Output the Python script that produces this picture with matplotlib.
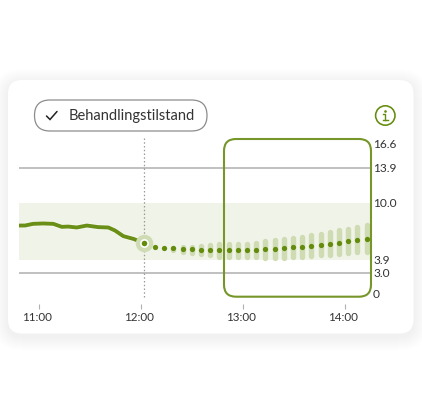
'''
    Glucose trace with a forecast for the next two hours
'''
import numpy as np
import matplotlib
matplotlib.use('Agg')
import matplotlib.pyplot as plt
from matplotlib.patches import FancyBboxPatch, Circle
from matplotlib.transforms import ScaledTranslation

W, H = 422, 413

# y axis is squeezed below the target range, so it is piecewise
SCALE_VALUES = [0, 3.0, 3.9, 10.0, 13.9, 16.6]
SCALE_HEIGHTS = [0, 21.3, 34, 91.3, 126, 150]
Y_TICKS = [0, 3.0, 3.9, 10.0, 13.9, 16.6]
Y_LABELS = ['0', '3.0', '3.9', '10.0', '13.9', '16.6']
GRID_LEVELS = [3.0, 13.9]
RANGE_LOW, RANGE_HIGH = 3.9, 10.0

# everything on x is minutes after 11:00
X_TICKS = [0, 60, 120, 180]
X_LABELS = ['11:00', '12:00', '13:00', '14:00']

HIST_T = [-11.8, -8.2, -3.5, 2.4, 8.4, 13.4, 17.2, 22.2, 28.1, 34.9, 40.8,
          44.7, 49.6, 55.5, 60.6, 62.0]
HIST_G = [7.57, 7.57, 7.75, 7.79, 7.75, 7.43, 7.46, 7.36, 7.57, 7.40, 7.36,
          7.04, 6.44, 6.15, 5.79, 5.70]
NOW_T, NOW_G = 62.0, 5.70

FC_T = [68.2, 73.5, 79.0, 84.5, 89.8, 95.3, 100.6, 106.1, 111.6, 116.9, 122.4,
        127.6, 133.1, 138.6, 143.9, 149.4, 154.9, 160.2, 165.7, 171.2, 176.5,
        181.9, 187.2, 192.8]
FC_G = [5.32, 5.22, 5.15, 5.08, 5.05, 4.97, 4.97, 4.97, 4.97, 4.97, 4.97,
        4.97, 5.05, 5.11, 5.15, 5.26, 5.29, 5.40, 5.51, 5.61, 5.75, 5.90,
        6.04, 6.18]
FC_HIGH = [5.32, 5.35, 5.51, 5.61, 5.61, 5.69, 5.75, 5.86, 5.93, 5.93, 5.93,
           6.04, 6.22, 6.29, 6.47, 6.58, 6.65, 6.82, 7.00, 7.19, 7.40, 7.54,
           7.72, 7.93]
FC_LOW = [5.32, 5.10, 4.72, 4.51, 4.33, 4.25, 4.15, 3.98, 3.90, 3.90, 3.90,
          3.90, 3.88, 3.88, 3.88, 3.98, 3.98, 4.08, 4.15, 4.15, 4.25, 4.36,
          4.44, 4.51]

GREEN = '#648c0c'
BOX_GREEN = '#76962a'
BAND_GREEN = '#cfdbb2'
RANGE_FILL = '#f0f3e7'
TEXT = '#333333'
GREY = '#b5b5b5'
BAR_WIDTH_PX = 5.4

plt.rcParams['font.family'] = ['Lato', 'DejaVu Sans']


def forward(v):
    return np.interp(v, SCALE_VALUES, SCALE_HEIGHTS)


def inverse(h):
    return np.interp(h, SCALE_HEIGHTS, SCALE_VALUES)


def pixel_axes(fig, zorder):
    ''' axes covering the whole figure, measured in pixels from the top left'''
    ax = fig.add_axes([0, 0, 1, 1], zorder=zorder)
    ax.set_xlim(0, W)
    ax.set_ylim(H, 0)
    ax.axis('off')
    ax.patch.set_alpha(0)
    return ax


def rounded(x0, y0, x1, y1, radius, **kw):
    return FancyBboxPatch((x0, y0), x1 - x0, y1 - y0,
                          boxstyle=f'round,pad=0,rounding_size={radius}', **kw)


def draw_card(ax):
    ''' white card with a soft shadow, plus the pill and the info icon'''
    for grow in range(14, 0, -1):
        ax.add_patch(rounded(8 - grow, 80 - grow + 3, 413.5 + grow, 333.5 + grow + 3,
                             14 + grow, fc='black', ec='none', alpha=0.003))
    ax.add_patch(rounded(8, 80, 413.5, 333.5, 14, fc='white', ec='none'))

    ax.add_patch(rounded(34.5, 100, 207, 131, 15.5, fc='white', ec='#8c8c8c', lw=0.9))
    ax.plot([46.5, 50, 57], [116, 119.5, 111.5], color='#222222', lw=1.1,
            solid_capstyle='round', solid_joinstyle='miter')
    ax.text(69, 116, 'Behandlingstilstand', fontsize=10.5, color=TEXT,
            ha='left', va='center')

    ax.add_patch(Circle((385.3, 115.5), 9.7, fc='none', ec=GREEN, lw=1.15))
    ax.plot([385.3], [110.6], 'o', color=GREEN, ms=1.9, mew=0)
    ax.plot([383, 385.3, 385.3], [113.5, 113.5, 120.3], color=GREEN, lw=1.0)
    ax.plot([382.5, 388.2], [120.3, 120.3], color=GREEN, lw=1.0)


def draw_chart(ax):
    ax.set_yscale('function', functions=(forward, inverse))
    ax.set_xlim((19 - 39) / 1.7, (369.5 - 39) / 1.7)
    ax.set_ylim(0, 16.6)
    ax.patch.set_alpha(0)
    for spine in ax.spines.values():
        spine.set_visible(False)

    ax.axhspan(RANGE_LOW, RANGE_HIGH, color=RANGE_FILL, lw=0, zorder=1)
    for level in GRID_LEVELS:
        ax.axhline(level, color=GREY, lw=1.2, zorder=2)

    # dotted marker for the current time runs past the plot area
    ax.plot([NOW_T, NOW_T], [1.04, -0.027], transform=ax.get_xaxis_transform(),
            color='#9a9a9a', lw=0.9, ls=(0, (1.2, 1.8)), clip_on=False, zorder=3)

    # forecast spread; the round caps add half a bar width at each end
    cap = BAR_WIDTH_PX / 2
    mid = forward(np.array(FC_G))
    bar_top = inverse(np.maximum(forward(np.array(FC_HIGH)) - cap, mid))
    bar_bottom = inverse(np.minimum(forward(np.array(FC_LOW)) + cap, mid))
    ax.vlines(FC_T, bar_bottom, bar_top, color=BAND_GREEN, lw=BAR_WIDTH_PX * 0.72,
              zorder=4, capstyle='round')
    ax.plot(FC_T, FC_G, 'o', color=GREEN, ms=3.8, mew=0, zorder=6)

    ax.plot(HIST_T, HIST_G, color='white', lw=3.8, alpha=0.7, zorder=4.5,
            solid_capstyle='round')
    ax.plot(HIST_T, HIST_G, color='#6a8f17', lw=2.8, zorder=5,
            solid_capstyle='round', solid_joinstyle='round')

    ax.plot([NOW_T], [NOW_G], 'o', color=BAND_GREEN, ms=12.6, mew=0, zorder=7)
    ax.plot([NOW_T], [NOW_G], 'o', color='white', ms=6.4, mew=0, zorder=8)
    ax.plot([NOW_T], [NOW_G], 'o', color=GREEN, ms=4.0, mew=0, zorder=9)

    ax.yaxis.tick_right()
    ax.set_yticks(Y_TICKS, Y_LABELS)
    ax.minorticks_off()
    ax.tick_params(axis='y', length=0, pad=2.6, labelsize=8.6, labelcolor=TEXT)

    ax.spines['bottom'].set_position(('outward', 7.2))
    ax.set_xticks(X_TICKS, X_LABELS)
    ax.tick_params(axis='x', length=3.6, width=0.8, color='#b0b0b0', pad=2.2,
                   labelsize=8.4, labelcolor=TEXT)
    # time labels sit a little left of their tick marks
    nudge = ScaledTranslation(-1.5 / 72, 0, ax.figure.dpi_scale_trans)
    for label in ax.get_xticklabels():
        label.set_transform(label.get_transform() + nudge)


def main():
    fig = plt.figure(figsize=(W / 100, H / 100), dpi=100, facecolor='white')

    draw_card(pixel_axes(fig, 0))

    chart = fig.add_axes([19 / W, 1 - 294 / H, (369.5 - 19) / W, 150 / H], zorder=1)
    draw_chart(chart)

    # highlight box for the forecast hours sits over the chart
    top = pixel_axes(fig, 2)
    top.add_patch(rounded(224, 139, 371, 296.7, 12, fc='none', ec=BOX_GREEN, lw=1.5))

    fig.savefig('out.png', dpi=100)


if __name__ == '__main__':
    main()
